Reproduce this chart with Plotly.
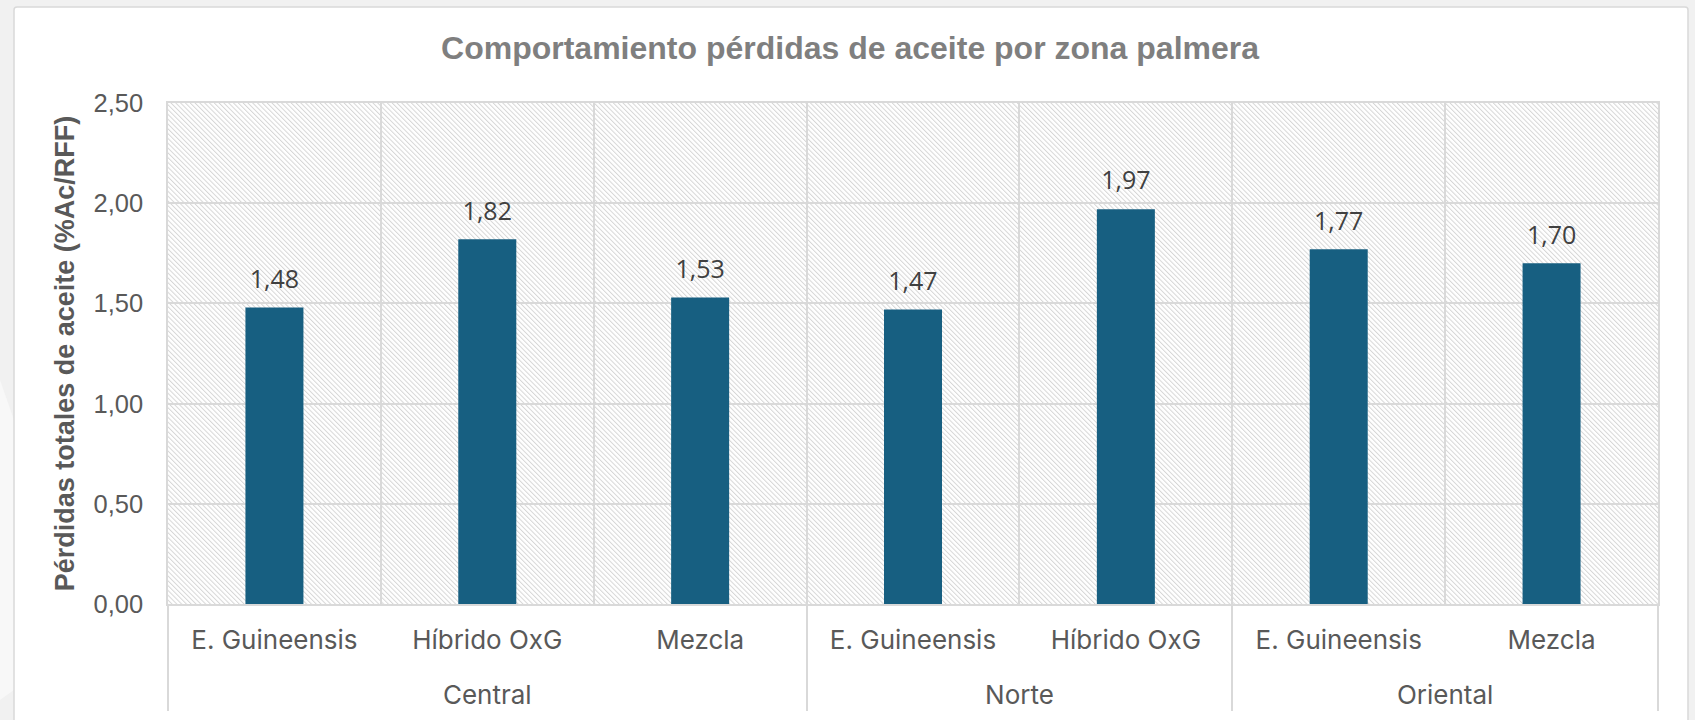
import base64
import plotly.graph_objects as go

# data
zones = ["Central", "Central", "Central", "Norte", "Norte", "Oriental", "Oriental"]
varieties = ["E. Guineensis", "Híbrido OxG", "Mezcla",
             "E. Guineensis", "Híbrido OxG",
             "E. Guineensis", "Mezcla"]
losses = [1.48, 1.82, 1.53, 1.47, 1.97, 1.77, 1.70]

title_text = "Comportamiento pérdidas de aceite por zona palmera"
y_title = "Pérdidas totales de aceite (%Ac/RFF)"

W, H = 1695, 720
ML, MR, MT, MB = 168, 37, 103, 116
PW, PH = W - ML - MR, H - MT - MB

bar_color = "#175f81"
grid = "#d9d9d9"

# background: grey slide, white chart frame, hatched plot area
svg = f"""<svg xmlns="http://www.w3.org/2000/svg" width="{W}" height="{H}" viewBox="0 0 {W} {H}">
<defs>
<pattern id="h" patternUnits="userSpaceOnUse" width="3.4" height="3.4" patternTransform="rotate(-45)">
<rect x="0" y="0" width="1" height="3.4" fill="#d6d6d6"/>
</pattern>
</defs>
<rect x="0" y="0" width="{W}" height="{H}" fill="#f1f1f1"/>
<polygon points="0,380 14,420 14,690 0,700" fill="#f8f8f8"/>
<rect x="14" y="7" width="{W - 21}" height="{H + 20}" rx="3" fill="#ffffff" stroke="#d9d9d9" stroke-width="1.5"/>
<rect x="{ML}" y="{MT}" width="{PW}" height="{PH}" fill="url(#h)"/>
</svg>"""
bg_src = "data:image/svg+xml;base64," + base64.b64encode(svg.encode()).decode()

# inner labels get an empty second line so the zone row sits lower, as in the reference
inner = [v + "<br>&nbsp;" for v in varieties]

fig = go.Figure()
fig.add_trace(go.Bar(
    x=[zones, inner], y=losses,
    marker=dict(color=bar_color, line=dict(width=0)),
    hoverinfo="skip",
))
# value labels, lifted above the bars by an invisible marker
fig.add_trace(go.Scatter(
    x=[zones, inner], y=losses,
    mode="markers+text",
    marker=dict(size=20, opacity=0),
    text=[f"{v:.2f}".replace(".", ",") for v in losses],
    textposition="top center",
    textfont=dict(family="Open Sans", size=25, color="#404040"),
    cliponaxis=False, hoverinfo="skip",
))

fig.update_layout(
    width=W, height=H,
    margin=dict(l=ML, r=MR, t=MT, b=MB, autoexpand=False),
    paper_bgcolor="#f1f1f1", plot_bgcolor="rgba(0,0,0,0)",
    showlegend=False, bargap=0.7275,
    separators=",.",
    title=dict(text=title_text, x=0.5015, xref="container", xanchor="center",
               y=1 - 48 / H, yref="container", yanchor="middle",
               font=dict(family="Liberation Sans", size=32, color="#7f7f7f", weight="bold")),
    images=[dict(source=bg_src, xref="paper", yref="paper",
                 x=-ML / PW, y=1 + MT / PH, sizex=W / PW, sizey=H / PH,
                 xanchor="left", yanchor="top", sizing="stretch", layer="below")],
)
fig.update_xaxes(
    type="multicategory", tickson="boundaries",
    showgrid=True, gridcolor=grid, gridwidth=1.5,
    showline=True, linecolor=grid, linewidth=2, mirror=True,
    showdividers=True, dividercolor=grid, dividerwidth=2,
    ticks="", ticklabelstandoff=12,
    tickfont=dict(family="Inter", size=26, color="#595959"),
)
fig.update_yaxes(
    range=[0, 2.5], dtick=0.5, tickformat=".2f",
    showgrid=True, gridcolor=grid, gridwidth=1.5,
    showline=True, linecolor=grid, linewidth=1.5, mirror=True,
    zeroline=False, ticks="", ticklabelstandoff=18,
    tickfont=dict(family="Liberation Sans", size=25.5, color="#595959"),
    title=dict(text=y_title, standoff=11,
               font=dict(family="Liberation Sans", size=27, color="#595959", weight="bold")),
)

# drop the page's default body margin so the figure fills the window exactly
fig.write_html("out.html", config={"displayModeBar": False},
               post_script="document.body.style.margin='0';")
